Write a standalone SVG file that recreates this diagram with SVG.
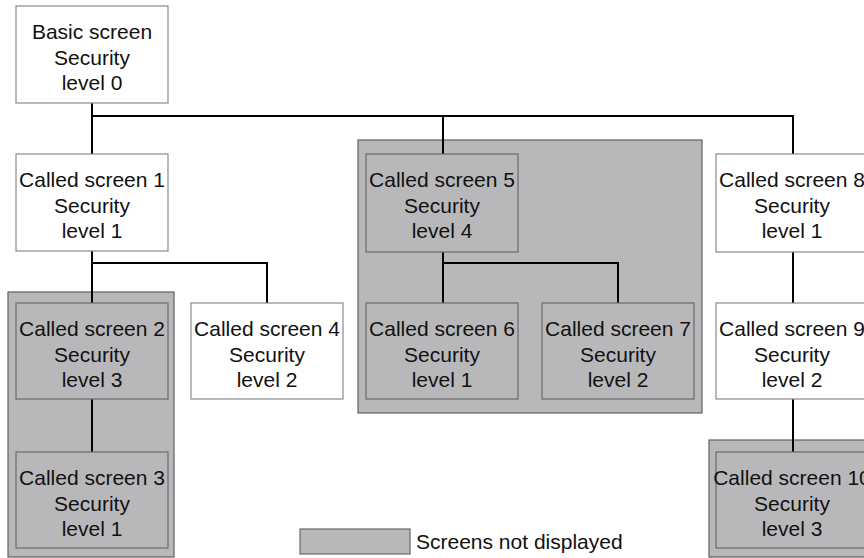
<svg xmlns="http://www.w3.org/2000/svg" width="864" height="558" viewBox="0 0 864 558">
<style>
.bg{fill:#ffffff}
.grp{fill:#b8b8ba;stroke:#606060;stroke-width:1.2}
.box{fill:#ffffff;stroke:#8a8a8a;stroke-width:1.2}
.hid{fill:#b8b8ba;stroke:#6a6a6a;stroke-width:1.2}
.t{font-family:"Liberation Sans",Arial,sans-serif;font-size:21px;fill:#111;text-anchor:middle}
.lt{font-family:"Liberation Sans",Arial,sans-serif;font-size:21px;fill:#111}
.c{stroke:#000;stroke-width:2;fill:none}
</style>
<rect class="bg" x="0" y="0" width="864" height="558"/>
<g id="groups">
<rect class="grp" x="8" y="292" width="166" height="265"/>
<rect class="grp" x="358" y="140" width="344" height="273"/>
<rect class="grp" x="709" y="440" width="160" height="117"/>
</g>
<g id="connectors">
<path class="c" d="M92 103V154M92 116H793V154M443 116V154"/>
<path class="c" d="M92 251V303M92 263H267V303"/>
<path class="c" d="M443 252V303M443 263H618V303"/>
<path class="c" d="M92 399V452"/>
<path class="c" d="M793 252V303M793 399V452"/>
</g>
<g id="basic">
<rect class="box" x="16" y="6" width="152" height="97"/>
<text class="t" x="92" y="39">Basic screen</text>
<text class="t" x="92" y="64.5">Security</text>
<text class="t" x="92" y="90">level 0</text>
</g>
<g id="s1">
<rect class="box" x="16" y="154" width="152" height="97"/>
<text class="t" x="92" y="187">Called screen 1</text>
<text class="t" x="92" y="212.5">Security</text>
<text class="t" x="92" y="238">level 1</text>
</g>
<g id="s2">
<rect class="hid" x="16" y="303" width="152" height="96"/>
<text class="t" x="92" y="336">Called screen 2</text>
<text class="t" x="92" y="361.5">Security</text>
<text class="t" x="92" y="387">level 3</text>
</g>
<g id="s3">
<rect class="hid" x="16" y="452" width="152" height="96"/>
<text class="t" x="92" y="485">Called screen 3</text>
<text class="t" x="92" y="510.5">Security</text>
<text class="t" x="92" y="536">level 1</text>
</g>
<g id="s4">
<rect class="box" x="191" y="303" width="152" height="96"/>
<text class="t" x="267" y="336">Called screen 4</text>
<text class="t" x="267" y="361.5">Security</text>
<text class="t" x="267" y="387">level 2</text>
</g>
<g id="s5">
<rect class="hid" x="366" y="154" width="152" height="98"/>
<text class="t" x="442" y="187">Called screen 5</text>
<text class="t" x="442" y="212.5">Security</text>
<text class="t" x="442" y="238">level 4</text>
</g>
<g id="s6">
<rect class="hid" x="366" y="303" width="152" height="96"/>
<text class="t" x="442" y="336">Called screen 6</text>
<text class="t" x="442" y="361.5">Security</text>
<text class="t" x="442" y="387">level 1</text>
</g>
<g id="s7">
<rect class="hid" x="542" y="303" width="152" height="96"/>
<text class="t" x="618" y="336">Called screen 7</text>
<text class="t" x="618" y="361.5">Security</text>
<text class="t" x="618" y="387">level 2</text>
</g>
<g id="s8">
<rect class="box" x="716" y="154" width="152" height="98"/>
<text class="t" x="792" y="187">Called screen 8</text>
<text class="t" x="792" y="212.5">Security</text>
<text class="t" x="792" y="238">level 1</text>
</g>
<g id="s9">
<rect class="box" x="716" y="303" width="152" height="96"/>
<text class="t" x="792" y="336">Called screen 9</text>
<text class="t" x="792" y="361.5">Security</text>
<text class="t" x="792" y="387">level 2</text>
</g>
<g id="s10">
<rect class="hid" x="716" y="452" width="152" height="96"/>
<text class="t" x="792" y="485">Called screen 10</text>
<text class="t" x="792" y="510.5">Security</text>
<text class="t" x="792" y="536">level 3</text>
</g>
<g id="legend">
<rect class="hid" x="300" y="529" width="110" height="25"/>
<text class="lt" x="416" y="549">Screens not displayed</text>
</g>
</svg>
